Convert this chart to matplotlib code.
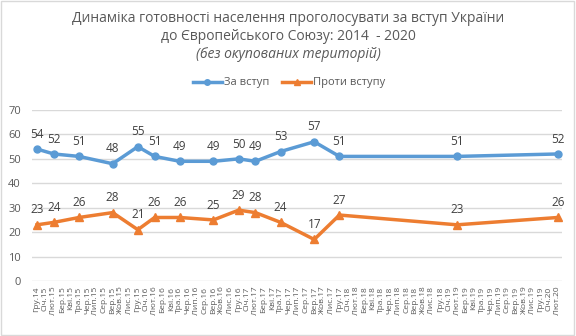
import matplotlib.pyplot as plt
from matplotlib.patches import Rectangle

plt.rcParams['font.family'] = ['Open Sans', 'DejaVu Sans']

# місяці від Гру.14 до Лют.20
months = ['Січ', 'Лют', 'Бер', 'Кві', 'Тра', 'Чер', 'Лип', 'Сер', 'Вер', 'Жов', 'Лис', 'Гру']
labels = ['Гру.14']
for yr in range(15, 21):
    for m in months:
        labels.append(f'{m}.{yr}')
labels = labels[:63]

# індекси місяців, коли проводились опитування
survey_idx = [0, 2, 5, 9, 12, 14, 17, 21, 24, 26, 29, 33, 36, 50, 62]
za = [54, 52, 51, 48, 55, 51, 49, 49, 50, 49, 53, 57, 51, 51, 52]
proty = [23, 24, 26, 28, 21, 26, 26, 25, 29, 28, 24, 17, 27, 23, 26]

blue = '#5B9BD5'
orange = '#ED7D31'
txt = '#595959'

fig = plt.figure(figsize=(5.76, 3.36), dpi=100)
fig.patches.append(Rectangle((0.002, 0.003), 0.995, 0.994, transform=fig.transFigure,
                             fill=False, edgecolor='#d9d9d9', linewidth=1))

ax = fig.add_axes([32 / 576, 1 - 281 / 336, 530 / 576, 171 / 336])

ax.plot(survey_idx, za, color=blue, lw=2.5, marker='o', ms=5, label='За вступ')
ax.plot(survey_idx, proty, color=orange, lw=2.5, marker='^', ms=6, label='Проти вступу')

for x, v in zip(survey_idx, za):
    ax.annotate(str(v), (x, v), xytext=(0, 6), textcoords='offset points',
                ha='center', va='bottom', fontsize=8.5, color='#404040')
for x, v in zip(survey_idx, proty):
    ax.annotate(str(v), (x, v), xytext=(0, 6), textcoords='offset points',
                ha='center', va='bottom', fontsize=8.5, color='#404040')

ax.set_xlim(-0.6, 62.5)
ax.set_ylim(0, 70)
ax.set_yticks(range(0, 71, 10))
ax.set_xticks(range(len(labels)))
ax.set_xticklabels(labels, rotation=90, fontsize=6, color=txt)
ax.tick_params(axis='y', labelsize=8, colors=txt, length=0, pad=8)
ax.tick_params(axis='x', length=0, pad=4)
ax.grid(axis='y', color='#d9d9d9', lw=1)
ax.set_axisbelow(True)
for s in ax.spines.values():
    s.set_visible(False)

fig.legend(loc='center', bbox_to_anchor=(289 / 576, 1 - 83 / 336), ncol=2, frameon=False,
           fontsize=8, labelcolor=txt, handlelength=2.6, handletextpad=0.15,
           columnspacing=1.2, markerscale=0.8)

fig.text(0.5, 1 - 18 / 336, 'Динаміка готовності населення проголосувати за вступ України',
         ha='center', va='center', fontsize=10, color=txt)
fig.text(0.5, 1 - 37 / 336, 'до Європейського Союзу: 2014  - 2020',
         ha='center', va='center', fontsize=10, color=txt)
fig.text(0.5, 1 - 55 / 336, '(без окупованих територій)',
         ha='center', va='center', fontsize=10, color=txt, style='italic')

fig.savefig('out.png', dpi=100)
